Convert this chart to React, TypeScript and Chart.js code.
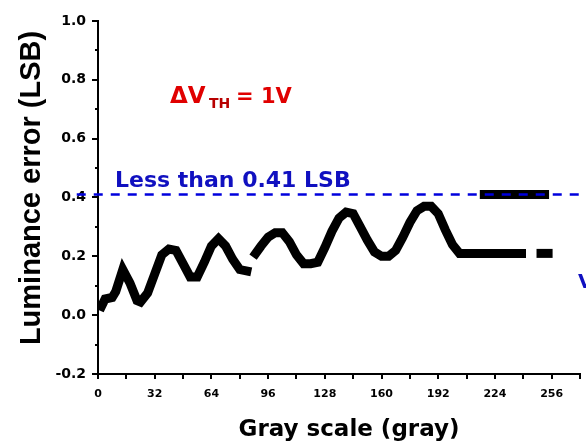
import React, { useEffect, useRef } from "react";
import { Chart, registerables } from "chart.js";

Chart.register(...registerables);

// Gray level (x) and luminance error in LSB (y)
const grayA = [2, 4, 8, 10, 14, 18, 22, 24, 28, 32, 36, 40, 44, 48, 52, 56, 60, 64, 68, 72, 76, 80, 84];
const errA = [0.03, 0.055, 0.06, 0.08, 0.155, 0.11, 0.05, 0.045, 0.075, 0.14, 0.205, 0.225, 0.22, 0.175, 0.13, 0.13, 0.18, 0.235, 0.26, 0.235, 0.19, 0.155, 0.15];

const grayB = [89, 92, 96, 100, 104, 108, 112, 116, 120, 124, 128, 132, 136, 140, 144, 148, 152, 156, 160, 164, 168, 172, 176, 180, 184, 188, 192, 196, 200, 204, 212, 220, 228, 236, 239];
const errB = [0.21, 0.235, 0.265, 0.28, 0.28, 0.25, 0.205, 0.175, 0.175, 0.18, 0.23, 0.285, 0.33, 0.35, 0.345, 0.3, 0.255, 0.215, 0.2, 0.2, 0.22, 0.265, 0.315, 0.355, 0.37, 0.37, 0.345, 0.29, 0.24, 0.21, 0.21, 0.21, 0.21, 0.21, 0.21];

const grayC = [250, 254];
const errC = [0.21, 0.21];

const grayD = [218, 252];
const errD = [0.41, 0.41];

const limitX = [-12, 275];
const limitValue = 0.41;

const xTicks = [0, 32, 64, 96, 128, 160, 192, 224, 256];
const xMinorTicks = [0, 16, 32, 48, 64, 80, 96, 112, 128, 144, 160, 176, 192, 208, 224, 240, 256, 272];
const yTicks = [-0.2, 0, 0.2, 0.4, 0.6, 0.8, 1.0];
const yMinorTicks = [-0.2, -0.1, 0, 0.1, 0.2, 0.3, 0.4, 0.5, 0.6, 0.7, 0.8, 0.9, 1.0];

const toPts = (xs: number[], ys: number[]) => xs.map((x, i) => ({ x, y: ys[i] }));

const curveStyle = {
  borderColor: "#000",
  backgroundColor: "#000",
  borderWidth: 9,
  borderCapStyle: "square" as const,
  borderJoinStyle: "miter" as const,
  pointRadius: 0,
  fill: false,
  tension: 0,
};

const decor = {
  id: "decor",
  afterDraw(chart: any) {
    const ctx = chart.ctx;
    const xs = chart.scales.x;
    const ys = chart.scales.y;
    const area = chart.chartArea;
    ctx.save();
    ctx.strokeStyle = "#000";
    ctx.lineWidth = 2;
    ctx.beginPath();
    yMinorTicks.forEach((v) => {
      const major = yTicks.some((t) => Math.abs(t - v) < 1e-9);
      const py = Math.round(ys.getPixelForValue(v));
      ctx.moveTo(area.left - (major ? 6 : 3), py);
      ctx.lineTo(area.left, py);
    });
    xMinorTicks.forEach((v) => {
      const px = Math.round(xs.getPixelForValue(v));
      ctx.moveTo(px, area.bottom);
      ctx.lineTo(px, area.bottom + 5);
    });
    ctx.stroke();

    // axis titles
    ctx.fillStyle = "#000";
    ctx.font = "bold 23px 'DejaVu Sans'";
    ctx.textAlign = "center";
    ctx.textBaseline = "alphabetic";
    ctx.fillText("Gray scale (gray)", 349, 436);

    ctx.save();
    ctx.translate(40, 188);
    ctx.rotate(-Math.PI / 2);
    ctx.font = "bold 29px 'Liberation Sans'";
    ctx.fillText("Luminance error (LSB)", 0, 0);
    ctx.restore();

    // annotations
    ctx.textAlign = "left";
    ctx.fillStyle = "#e00000";
    ctx.font = "bold 23px 'DejaVu Sans'";
    ctx.fillText("\u0394V", 170, 103);
    ctx.fillStyle = "#b80000";
    ctx.font = "bold 14px 'DejaVu Sans'";
    ctx.fillText("TH", 209, 108);
    ctx.fillStyle = "#e00000";
    ctx.font = "bold 21px 'DejaVu Sans'";
    ctx.fillText("= 1V", 236, 103);

    ctx.fillStyle = "#1010c0";
    ctx.font = "bold 22px 'DejaVu Sans'";
    ctx.fillText("Less than 0.41 LSB", 115, 187);

    ctx.font = "bold 20px 'DejaVu Sans'";
    ctx.fillText("V", 578, 288);
    ctx.restore();
  },
};

export default function App() {
  const ref = useRef<HTMLCanvasElement | null>(null);
  useEffect(() => {
    document.body.style.margin = "0";
    const canvas = ref.current;
    if (!canvas) return;
    const chart = new Chart(canvas, {
      type: "line",
      data: {
        datasets: [
          {
            data: toPts(limitX, [limitValue, limitValue]),
            borderColor: "#0000dd",
            borderWidth: 2.5,
            borderDash: [9, 8],
            pointRadius: 0,
            clip: false as any,
          },
          { data: toPts(grayA, errA), ...curveStyle },
          { data: toPts(grayB, errB), ...curveStyle },
          { data: toPts(grayC, errC), ...curveStyle },
          { data: toPts(grayD, errD), ...curveStyle },
        ],
      },
      options: {
        animation: false,
        responsive: false,
        maintainAspectRatio: false,
        layout: { padding: { top: 21, right: 6, left: 0, bottom: 0 } },
        plugins: { legend: { display: false }, tooltip: { enabled: false }, title: { display: false } },
        scales: {
          x: {
            type: "linear",
            min: 0,
            max: 272,
            grid: { display: false, drawTicks: false },
            border: { display: true, color: "#000", width: 2 },
            afterBuildTicks: (s: any) => {
              s.ticks = xTicks.map((v) => ({ value: v }));
            },
            afterFit: (s: any) => {
              s.height = 69;
            },
            ticks: {
              autoSkip: false,
              maxRotation: 0,
              padding: 14,
              color: "#000",
              font: { family: "'DejaVu Sans'", weight: "bold", size: 11 },
              callback: (v: any) => String(v),
            },
          },
          y: {
            type: "linear",
            min: -0.2,
            max: 1.0,
            grid: { display: false, drawTicks: false },
            border: { display: true, color: "#000", width: 2 },
            afterBuildTicks: (s: any) => {
              s.ticks = yTicks.map((v) => ({ value: v }));
            },
            afterFit: (s: any) => {
              s.width = 98;
            },
            ticks: {
              padding: 12,
              color: "#000",
              font: { family: "'DejaVu Sans'", weight: "bold", size: 14 },
              callback: (v: any) => Number(v).toFixed(1),
            },
          },
        },
      },
      plugins: [decor],
    });
    return () => chart.destroy();
  }, []);
  return (
    <div style={{ position: "fixed", left: 0, top: 0, width: 586, height: 443, background: "#fff" }}>
      <canvas ref={ref} width={586} height={443} />
    </div>
  );
}
